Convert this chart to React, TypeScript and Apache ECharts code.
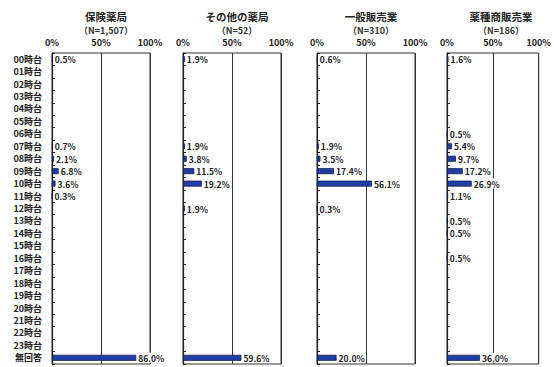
import React, { useEffect, useRef } from "react";
import * as echarts from "echarts";

const categories = [
  "00時台", "01時台", "02時台", "03時台", "04時台", "05時台",
  "06時台", "07時台", "08時台", "09時台", "10時台", "11時台",
  "12時台", "13時台", "14時台", "15時台", "16時台", "17時台",
  "18時台", "19時台", "20時台", "21時台", "22時台", "23時台",
  "無回答",
];

const xTicks = ["0%", "50%", "100%"];

const panelTitles = ["保険薬局", "その他の薬局", "一般販売業", "薬種商販売業"];
const panelCounts = ["（N=1,507）", "（N=52）", "（N=310）", "（N=186）"];

const hokenYakkyoku = [
  0.5, null, null, null, null, null, null, 0.7, 2.1, 6.8, 3.6, 0.3,
  null, null, null, null, null, null, null, null, null, null, null, null,
  86.0,
];
const sonotaYakkyoku = [
  1.9, null, null, null, null, null, null, 1.9, 3.8, 11.5, 19.2, null,
  1.9, null, null, null, null, null, null, null, null, null, null, null,
  59.6,
];
const ippanHanbai = [
  0.6, null, null, null, null, null, null, 1.9, 3.5, 17.4, 56.1, null,
  0.3, null, null, null, null, null, null, null, null, null, null, null,
  20.0,
];
const yakushuHanbai = [
  1.6, null, null, null, null, null, 0.5, 5.4, 9.7, 17.2, 26.9, 1.1,
  null, 0.5, 0.5, null, 0.5, null, null, null, null, null, null, null,
  36.0,
];

const panelValues = [hokenYakkyoku, sonotaYakkyoku, ippanHanbai, yakushuHanbai];

// left edge and width of each panel's plot area
const panelLeft = [52, 183, 317, 447];
const panelWidth = 98;
const gridTop = 53;
const gridHeight = 311;

const FONT = '"Noto Sans CJK JP", "Liberation Sans", sans-serif';

export default function App() {
  const ref = useRef<HTMLDivElement>(null);

  useEffect(() => {
    if (!ref.current) return;
    const chart = echarts.init(ref.current, undefined, { renderer: "svg" });

    const grids = panelLeft.map((left) => ({
      left,
      top: gridTop,
      width: panelWidth,
      height: gridHeight,
      show: true,
      borderColor: "#333",
      borderWidth: 1,
      backgroundColor: "transparent",
    }));

    const xAxes = panelLeft.map((_, i) => ({
      type: "value",
      gridIndex: i,
      position: "top",
      min: 0,
      max: 100,
      interval: 50,
      axisLine: { show: false },
      axisTick: { show: false },
      axisLabel: {
        margin: 6,
        fontSize: 9,
        fontWeight: "bold",
        fontFamily: FONT,
        color: "#222",
        formatter: (v: number) => xTicks[Math.round(v / 50)],
      },
      splitLine: { show: true, lineStyle: { color: "#333", width: 1 } },
    }));

    const yAxes = panelLeft.map((_, i) => ({
      type: "category",
      gridIndex: i,
      data: categories,
      inverse: true,
      axisLine: { show: true, lineStyle: { color: "#222", width: 1.2 } },
      axisTick: { show: true, inside: true, length: 3, lineStyle: { color: "#222" } },
      axisLabel: {
        show: i === 0,
        margin: 10,
        fontSize: 9,
        lineHeight: 11,
        fontWeight: "bold",
        fontFamily: FONT,
        color: "#222",
      },
    }));

    const series = panelValues.map((vals, i) => ({
      type: "bar",
      xAxisIndex: i,
      yAxisIndex: i,
      data: vals,
      barWidth: 6,
      itemStyle: { color: "#1f3da6", borderColor: "#14204f", borderWidth: 0.8 },
      label: {
        show: true,
        position: "right",
        distance: 1,
        fontSize: 8.5,
        lineHeight: 10,
        fontWeight: "bold",
        fontFamily: FONT,
        color: "#222",
        backgroundColor: "#fff",
        padding: [0, 1, 0, 1],
        formatter: (p: any) => (p.value == null ? "" : Number(p.value).toFixed(1) + "%"),
      },
    }));

    const titles = panelLeft.map((left, i) => ({
      text: panelTitles[i],
      subtext: panelCounts[i],
      left: left + panelWidth / 2,
      top: 5,
      textAlign: "center",
      itemGap: 3,
      textStyle: { fontSize: 10.5, lineHeight: 12, fontWeight: "bold", fontFamily: FONT, color: "#222" },
      subtextStyle: { fontSize: 9, lineHeight: 11, fontWeight: "bold", fontFamily: FONT, color: "#333" },
    }));

    chart.setOption({
      animation: false,
      backgroundColor: "#fff",
      title: titles,
      grid: grids,
      xAxis: xAxes,
      yAxis: yAxes,
      series,
    });

    return () => chart.dispose();
  }, []);

  return (
    <div
      ref={ref}
      style={{ position: "fixed", left: 0, top: 0, width: 554, height: 367 }}
    />
  );
}
